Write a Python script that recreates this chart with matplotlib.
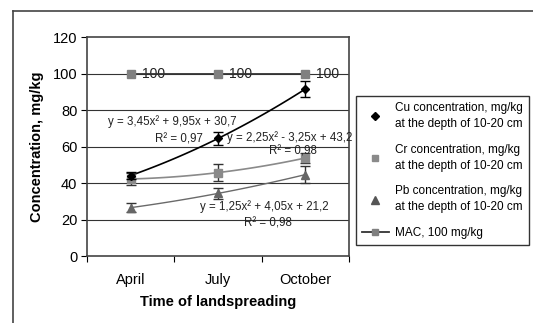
import numpy as np
import matplotlib
matplotlib.use("Agg")
import matplotlib.pyplot as plt
from matplotlib.lines import Line2D

plt.rcParams['font.family'] = ['Liberation Sans', 'DejaVu Sans']

months = ["April", "July", "October"]
cu = [44.1, 64.4, 91.5]
cu_err = [2.0, 3.5, 4.5]
cr = [42.2, 45.7, 53.7]
cr_err = [3.5, 4.5, 3.0]
pb = [26.5, 34.3, 44.6]
pb_err = [2.5, 3.0, 4.5]
mac = [100, 100, 100]

cu_eq = ["y = 3,45x² + 9,95x + 30,7", "R² = 0,97"]
cr_eq = ["y = 2,25x² - 3,25x + 43,2", "R² = 0,98"]
pb_eq = ["y = 1,25x² + 4,05x + 21,2", "R² = 0,98"]

W, H = 533, 323
fig = plt.figure(figsize=(W / 100, H / 100), dpi=100)
ax = fig.add_axes([87 / W, 1 - 256 / H, (349 - 87) / W, (256 - 37) / H])

x = np.arange(len(months))
xs = np.linspace(0, 2, 50)


def trend(vals, color, lw):
    # excel style 2nd order polynomial trendline
    p = np.polyfit(x + 1, vals, 2)
    ax.plot(xs, np.polyval(p, xs + 1), color=color, lw=lw, zorder=3)


trend(cu, "black", 1.2)
trend(cr, "#8a8a8a", 1.2)
trend(pb, "#6a6a6a", 1.0)

ax.errorbar(x, cr, yerr=cr_err, fmt="s", color="#8a8a8a", ecolor="#333333",
            ms=6, capsize=3.5, elinewidth=1, zorder=4)
ax.errorbar(x, pb, yerr=pb_err, fmt="^", color="#666666", ecolor="#333333",
            ms=6, capsize=3.5, elinewidth=1, zorder=4)
ax.errorbar(x, cu, yerr=cu_err, fmt="D", color="black", ecolor="black",
            ms=4.5, capsize=3.5, elinewidth=1, zorder=5)
ax.plot(x, mac, color="#333333", lw=1.3, marker="s", ms=5.5,
        markerfacecolor="#808080", markeredgecolor="#808080", zorder=4)
for xi, v in zip(x, mac):
    ax.annotate(str(v), (xi, v), xytext=(8, 0), textcoords="offset points",
                va="center", ha="left", fontsize=10, color="#222222")

ax.set_xlim(-0.5, 2.5)
ax.set_ylim(0, 120)
ax.set_yticks(np.arange(0, 121, 20))
for y in range(20, 101, 20):
    ax.axhline(y, color="#333333", lw=0.8, zorder=1)
ax.set_xticks([-0.5, 0.5, 1.5, 2.5])
ax.set_xticklabels([])
ax.set_xticks(x, minor=True)
ax.set_xticklabels(months, minor=True)
ax.tick_params(axis="x", which="minor", length=0, pad=12, labelsize=10.5)
ax.tick_params(axis="x", which="major", length=4, direction="out")
ax.tick_params(axis="y", length=4, direction="out", labelsize=10.5, pad=3)
for s in ax.spines.values():
    s.set_color("#444444")
    s.set_linewidth(1.2)
ax.set_ylabel("Concentration, mg/kg", fontsize=10.5, fontweight="bold", labelpad=6)
ax.set_xlabel("Time of landspreading", fontsize=10.5, fontweight="bold", labelpad=6)


def ftext(px, py, s, ha="left"):
    fig.text(px / W, 1 - py / H, s, fontsize=8.3, ha=ha, va="center", color="#222222")


ftext(108, 122, cu_eq[0])
ftext(155, 139, cu_eq[1])
ftext(227, 138, cr_eq[0])
ftext(269, 152, cr_eq[1])
ftext(200, 207, pb_eq[0])
ftext(244, 223, pb_eq[1])

handles = [
    Line2D([], [], ls="none", marker="D", color="black", ms=4.5),
    Line2D([], [], ls="none", marker="s", color="#8a8a8a", ms=5),
    Line2D([], [], ls="none", marker="^", color="#555555", ms=5.5),
    Line2D([], [], color="#333333", lw=1.3, marker="s", ms=5,
           markerfacecolor="#808080", markeredgecolor="#808080"),
]
labels = [
    "Cu concentration, mg/kg\nat the depth of 10-20 cm",
    "Cr concentration, mg/kg\nat the depth of 10-20 cm",
    "Pb concentration, mg/kg\nat the depth of 10-20 cm",
    "MAC, 100 mg/kg",
]
leg = ax.legend(handles, labels, loc="upper left", bbox_to_anchor=(356 / W, 1 - 96 / H),
                bbox_transform=fig.transFigure, fontsize=8.5, frameon=True,
                fancybox=False, edgecolor="black", handlelength=2.3,
                labelspacing=1.15, borderpad=0.5, handletextpad=0.5,
                borderaxespad=0)
for t in leg.get_texts():
    t.set_linespacing(1.45)
leg.get_frame().set_linewidth(1.0)
leg.set_zorder(10)

# outer chart border (left and top only visible)
fig.add_artist(Line2D([13 / W, 13 / W], [0, 1 - 11 / H], transform=fig.transFigure,
                      color="#444444", lw=1.2))
fig.add_artist(Line2D([13 / W, 1], [1 - 11 / H, 1 - 11 / H], transform=fig.transFigure,
                      color="#444444", lw=1.2))

fig.savefig("out.png", dpi=100)
